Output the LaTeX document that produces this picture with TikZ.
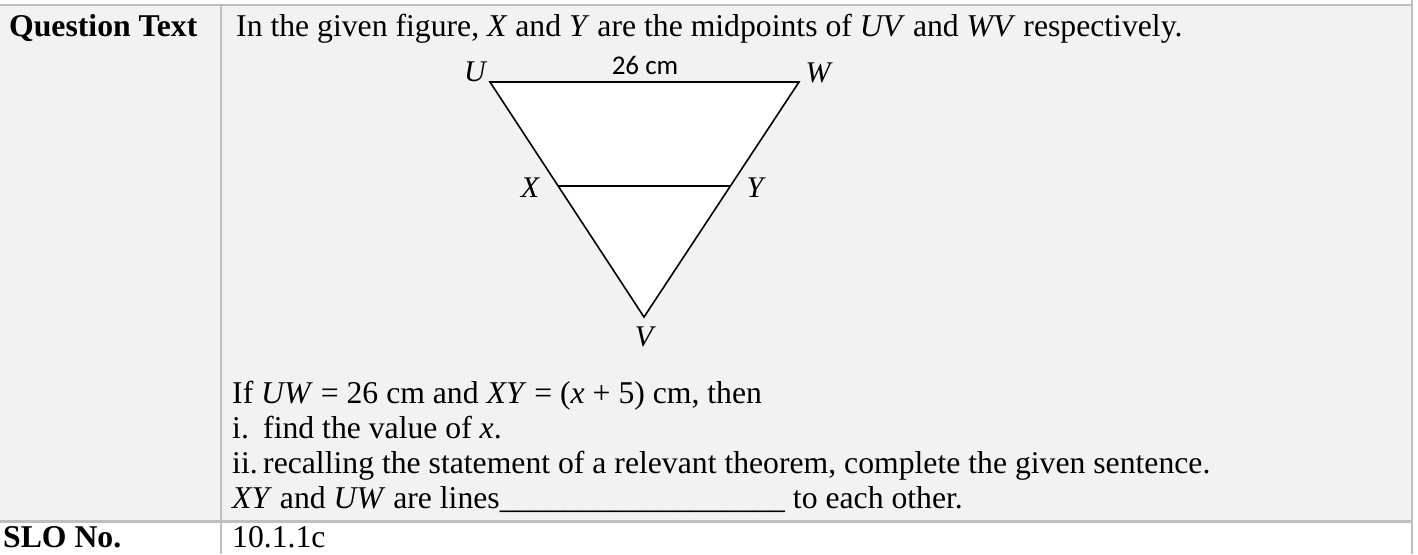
\documentclass[tikz,border=0pt]{standalone}
\usepackage{fontspec}
\setmainfont{Liberation Serif}
\newfontfamily\calibri{Carlito}
\definecolor{cellgray}{HTML}{F2F2F2}
\definecolor{rulegray}{HTML}{BFBFBF}
\begin{document}
\begin{tikzpicture}[x=1pt,y=-1pt,
  txt/.style={anchor=base west,inner sep=0pt,font=\fontsize{31.7}{35}\selectfont},
  lbl/.style={inner sep=0pt,font=\fontsize{30}{34}\selectfont\itshape},
  rulel/.style={draw=rulegray,line width=2.2pt},
  edge/.style={draw=black,line width=1.6pt}]
\useasboundingbox (0,0) rectangle (1418,554);
% backgrounds
\fill[white] (0,0) rectangle (1418,554);
\fill[cellgray] (0,6) rectangle (1412,521);
% rules
\draw[rulel] (0,5) -- (1412,5);
\draw[rulel] (0,521.5) -- (1412,521.5);
\draw[rulel] (221,5) -- (221,554);
\draw[rulel] (1412,0) -- (1412,554);
% left column
\node[txt,font=\fontsize{31.7}{35}\selectfont\bfseries] (qt) at (9,36) {Question Text};
\node[txt,font=\fontsize{31.7}{35}\selectfont\bfseries] (slo) at (3,547) {SLO No.};
% right column
\node[txt] (l1) at (236,36) {In the given figure, \textit{X} and \textit{Y} are the midpoints of \textit{UV} and \textit{WV} respectively.};
\node[txt] (l2) at (232,403) {If \textit{UW} = 26 cm and \textit{XY} = (\textit{x} + 5) cm, then};
\node[txt] (l3a) at (232,438) {i.};
\node[txt] (l3) at (263,438) {find the value of \textit{x}.};
\node[txt] (l4a) at (232,473) {ii.};
\node[txt] (l4) at (263,473) {recalling the statement of a relevant theorem, complete the given sentence.};
\node[txt] (l5) at (232,508) {\textit{XY} and \textit{UW} are lines\_\_\_\_\_\_\_\_\_\_\_\_\_\_\_\_\_\_ to each other.};
\node[txt] (l6) at (232,547) {10.1.1c};
% triangle
\coordinate (U) at (490,82);
\coordinate (W) at (799,82);
\coordinate (V) at (644,317);
\coordinate (X) at (558,186);
\coordinate (Y) at (731,186);
\filldraw[edge,fill=white,line join=miter] (U) -- (W) -- (V) -- cycle;
\draw[edge] (X) -- (Y);
\node[lbl] (uL) at (475,72) {U};
\node[lbl] (wL) at (818,73) {W};
\node[lbl] (xL) at (530,188) {X};
\node[lbl] (yL) at (755,188) {Y};
\node[lbl] (vL) at (644,337) {V};
\node[inner sep=0pt,font=\calibri\fontsize{27}{30}\selectfont] (len) at (645,65) {26 cm};
\end{tikzpicture}
\end{document}
